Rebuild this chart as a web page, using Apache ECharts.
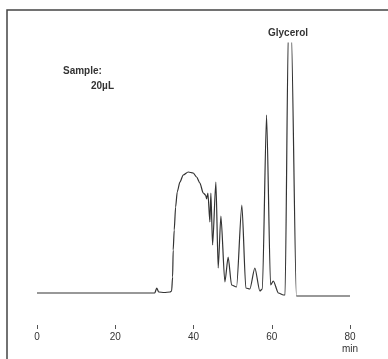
<!DOCTYPE html>
<html>
<head>
<meta charset="utf-8">
<script src="https://cdn.jsdelivr.net/npm/echarts@6/dist/echarts.min.js"></script>
<style>
  html, body { margin: 0; padding: 0; background: #fff; }
  #chart { width: 388px; height: 359px; }
</style>
</head>
<body>
<div id="chart"></div>
<script>
// retention time (min) and detector response
const times = [0, 10, 20, 28, 30.1, 30.6, 31.1, 32.5, 34.0, 34.41, 34.66, 34.81, 35.07, 35.43,
  35.84, 36.53, 37.37, 38.65, 39.92, 40.79, 41.63, 42.48, 43.09, 43.35, 43.68, 44.19, 44.44,
  44.88, 45.72, 46.31, 47.0, 48.02, 48.86, 49.73, 51.0, 52.36, 53.38, 54.4, 55.68, 56.96,
  57.6, 58.67, 59.7, 60.4, 61.7, 63.0, 63.4, 64.24, 64.99, 66.3, 80]
const signal = [0, 0, 0, 0, 0, 5, 1, 0.5, 1, 2, 16, 43, 63, 86,
  101, 111, 118, 121, 120, 116, 110, 100, 98, 94, 100, 71, 100,
  48, 111, 25, 77, 11, 36, 8, 6, 88, 5, 4, 25, 2,
  4, 178, 8, 12, 0, -2, -2, 262, 262, -3, -3]
const tickValues = [0, 20, 40, 60, 80]

const chart = echarts.init(document.getElementById('chart'))

const ink = '#333'

const option = {
  backgroundColor: '#fff',
  animation: false,
  grid: { left: 37, right: 38, top: 43, bottom: 56, outerBoundsMode: 'none', containLabel: false },
  xAxis: {
    type: 'value',
    min: 0,
    max: 80,
    interval: 20,
    offset: 22,
    axisLine: { show: false, onZero: false },
    splitLine: { show: false },
    axisTick: { show: true, length: 4, lineStyle: { color: '#555', width: 1 } },
    axisLabel: {
      margin: 6,
      color: ink,
      fontSize: 10,
      fontFamily: 'Liberation Sans, Arial, sans-serif',
      lineHeight: 12,
      formatter: v => (tickValues.indexOf(v) === 4 ? v + '\nmin' : String(v))
    }
  },
  yAxis: {
    type: 'value',
    min: -10,
    max: 250,
    show: false
  },
  series: [
    {
      type: 'line',
      data: times.map((t, i) => [t, signal[i]]),
      symbol: 'none',
      clip: true,
      smooth: 0.25,
      smoothMonotone: 'x',
      lineStyle: { color: ink, width: 1.2 }
    }
  ],
  graphic: [
    {
      type: 'polyline',
      shape: { points: [[7, 359], [7, 10], [388, 10]] },
      style: { stroke: '#444', lineWidth: 1.5, fill: null }
    },
    {
      type: 'text', left: 63, top: 66,
      style: { text: 'Sample:', fill: ink, font: 'bold 10px Liberation Sans, Arial, sans-serif' }
    },
    {
      type: 'text', left: 91, top: 81,
      style: { text: '20\u00b5L', fill: ink, font: 'bold 10px Liberation Sans, Arial, sans-serif' }
    },
    {
      type: 'text', left: 268, top: 28,
      style: { text: 'Glycerol', fill: ink, font: 'bold 10px Liberation Sans, Arial, sans-serif' }
    }
  ]
}

chart.setOption(option)
</script>
</body>
</html>
